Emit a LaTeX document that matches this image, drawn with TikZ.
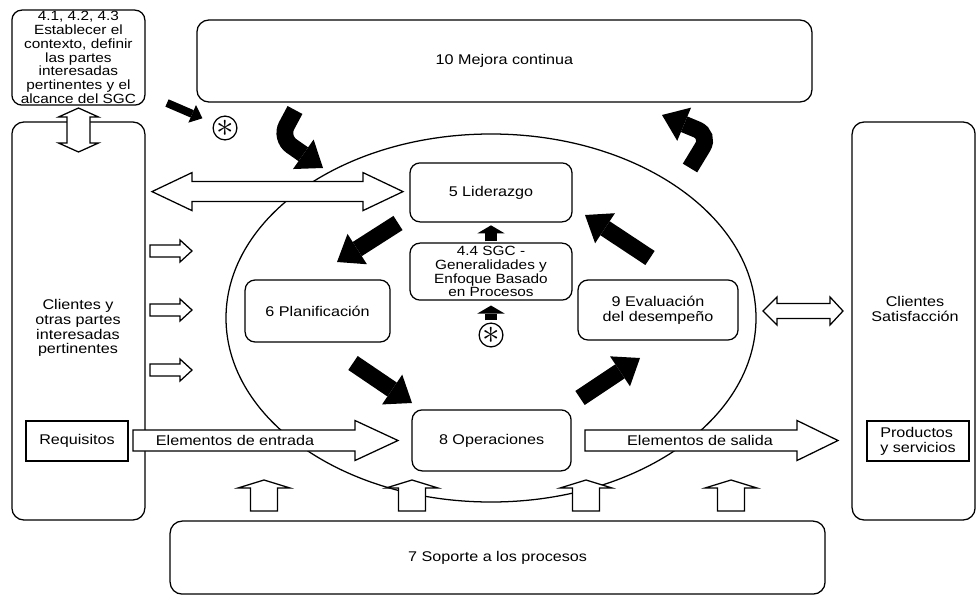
\documentclass[tikz,border=0pt]{standalone}
\usepackage{fontspec}
\setmainfont{Liberation Sans}[FakeStretch=1.15]
\usetikzlibrary{arrows.meta}

\begin{document}
\begin{tikzpicture}[
    line width=0.9pt,
    font=\fontsize{10}{10.5}\selectfont,
    caja/.style={draw, fill=white, rounded corners=0.25cm, align=center, inner sep=1pt},
    cajagrande/.style={draw, fill=white, rounded corners=0.3cm},
    recuadro/.style={draw, fill=white, inner sep=2pt},
    chico/.style={font=\fontsize{9.5}{9.8}\selectfont},
    hueca/.style={draw, fill=white},
    negra/.style={line width=0.42cm, -{Triangle[length=0.6cm, width=0.9cm, line width=0pt]}},
    negrachica/.style={line width=0.32cm, -{Triangle[length=0.2cm, width=0.68cm, line width=0pt]}},
    flechita/.style={line width=0.2cm, -{Triangle[length=0.28cm, width=0.48cm, line width=0pt]}},
    asterisco/.style={draw, circle, fill=white, minimum size=0.55cm, inner sep=0pt},
  ]
  \useasboundingbox (0,0) rectangle (24.4,-14.9);

  % Circulo del ciclo
  \draw (12.275,-7.95) ellipse [x radius=6.625, y radius=4.6];

  % Cajas exteriores
  \node[caja, chico, minimum width=3.325cm, minimum height=2.375cm, inner sep=0pt] (ctx) at (1.96,-1.44)
    {4.1, 4.2, 4.3\\Establecer el\\contexto, definir\\las partes\\interesadas\\pertinentes y el\\alcance del SGC};
  \node[cajagrande, minimum width=15.375cm, minimum height=2.05cm] (mejora) at (12.61,-1.525) {10 Mejora continua};
  \node[cajagrande, minimum width=3.325cm, minimum height=9.95cm] (cli) at (1.96,-8.025) {};
  \node[align=center] (clitxt) at (1.95,-8.2) {Clientes y\\otras partes\\interesadas\\pertinentes};
  \node[cajagrande, minimum width=3.075cm, minimum height=9.95cm] (sat) at (22.84,-8.025) {};
  \node[align=center] (sattxt) at (22.875,-7.725) {Clientes\\Satisfacción};
  \node[cajagrande, minimum width=16.375cm, minimum height=1.825cm] (sop) at (12.44,-13.94) {7 Soporte a los procesos};
  \node[recuadro, minimum width=2.55cm, minimum height=1cm] (req) at (1.925,-11.025) {Requisitos};
  \node[recuadro, align=left, minimum width=2.55cm, minimum height=1cm] (prod) at (22.95,-11.025) {Productos\\y servicios};

  % Cajas del ciclo
  \node[caja, minimum width=4.05cm, minimum height=1.475cm] (lid) at (12.275,-4.81) {5 Liderazgo};
  \node[caja, chico, minimum width=4.05cm, minimum height=1.425cm, inner sep=0pt] (sgc) at (12.275,-6.79)
    {4.4 SGC -\\Generalidades y\\Enfoque Basado\\en Procesos};
  \node[caja, minimum width=3.625cm, minimum height=1.55cm] (plan) at (7.94,-7.775) {6 Planificación};
  \node[caja, minimum width=4.0cm, minimum height=1.5cm] (eval) at (16.45,-7.75) {9 Evaluación\\del desempeño};
  \node[caja, minimum width=3.975cm, minimum height=1.525cm] (oper) at (12.29,-11.01) {8 Operaciones};

  % Flechas huecas
  \draw[hueca] (1.9625,-2.7) -- (2.4625,-2.925) -- (2.25,-2.925) -- (2.25,-3.575) -- (2.4625,-3.575)
    -- (1.9625,-3.8) -- (1.4625,-3.575) -- (1.675,-3.575) -- (1.675,-2.925) -- (1.4625,-2.925) -- cycle;
  \draw[hueca] (3.8,-4.79) -- (4.8,-4.315) -- (4.8,-4.54) -- (9.075,-4.54) -- (9.075,-4.315) -- (10.075,-4.79)
    -- (9.075,-5.265) -- (9.075,-5.04) -- (4.8,-5.04) -- (4.8,-5.265) -- cycle;
  \foreach \y in {-6.275,-7.75,-9.25}
    \draw[hueca, shift={(0,\y)}] (3.75,0.15) -- (4.5,0.15) -- (4.5,0.275) -- (4.8,0) -- (4.5,-0.275) -- (4.5,-0.15) -- (3.75,-0.15) -- cycle;
  \draw[hueca] (19.075,-7.775) -- (19.425,-7.425) -- (19.425,-7.5875) -- (20.75,-7.5875) -- (20.75,-7.425) -- (21.075,-7.775)
    -- (20.75,-8.125) -- (20.75,-7.9625) -- (19.425,-7.9625) -- (19.425,-8.125) -- cycle;
  \draw[hueca] (3.325,-10.75) -- (8.875,-10.75) -- (8.875,-10.5125) -- (9.95,-11.0125) -- (8.875,-11.5125) -- (8.875,-11.275) -- (3.325,-11.275) -- cycle;
  \draw[hueca] (14.625,-10.75) -- (19.925,-10.75) -- (19.925,-10.5125) -- (20.95,-11.0125) -- (19.925,-11.5125) -- (19.925,-11.275) -- (14.625,-11.275) -- cycle;
  \node (entrada) at (5.875,-11.0) {Elementos de entrada};
  \node (salida) at (17.5,-11.0) {Elementos de salida};
  \foreach \x in {6.6,10.3,14.65,18.275}
    \draw[hueca, shift={(\x,0)}] (-0.3375,-12.775) -- (-0.3375,-12.2) -- (-0.65,-12.2) -- (0,-12.0) -- (0.65,-12.2) -- (0.3375,-12.2) -- (0.3375,-12.775) -- cycle;

  % Asteriscos
  \node[asterisco] (ast1) at (5.625,-3.2) {\fontsize{23}{23}\selectfont$\ast$};
  \node[asterisco] (ast2) at (12.275,-8.375) {\fontsize{23}{23}\selectfont$\ast$};

  % Flechas negras
  \coordinate (mej1) at (7.375,-2.75);
  \coordinate (mej2) at (7.0,-3.45);
  \coordinate (mej3) at (8.075,-4.2);
  \draw[negra, rounded corners=0.35cm] (mej1) -- (mej2) -- (mej3);
  \coordinate (sal1) at (17.25,-4.2);
  \coordinate (sal2) at (17.75,-3.375);
  \coordinate (sal3) at (16.55,-2.875);
  \draw[negra, rounded corners=0.35cm] (sal1) -- (sal2) -- (sal3);
  \coordinate (lidp) at (9.95,-5.575);
  \coordinate (planp) at (8.425,-6.55);
  \draw[negra] (lidp) -- (planp);
  \coordinate (plano) at (8.825,-9.075);
  \coordinate (operp) at (10.3,-10.075);
  \draw[negra] (plano) -- (operp);
  \coordinate (opere) at (14.5,-9.95);
  \coordinate (evalp) at (16.0,-8.95);
  \draw[negra] (opere) -- (evalp);
  \coordinate (evall) at (16.25,-6.45);
  \coordinate (lide) at (14.625,-5.375);
  \draw[negra] (evall) -- (lide);

  \draw[negrachica, shorten <=0.03cm, shorten >=0.07cm] (sgc.north) -- (lid.south);
  \draw[negrachica, shorten <=0.05cm, shorten >=0.12cm] (ast2) -- (sgc.south);
  \coordinate (ori) at (4.175,-2.575);
  \draw[flechita, shorten >=0.3cm] (ori) -- (ast1);
\end{tikzpicture}
\end{document}
